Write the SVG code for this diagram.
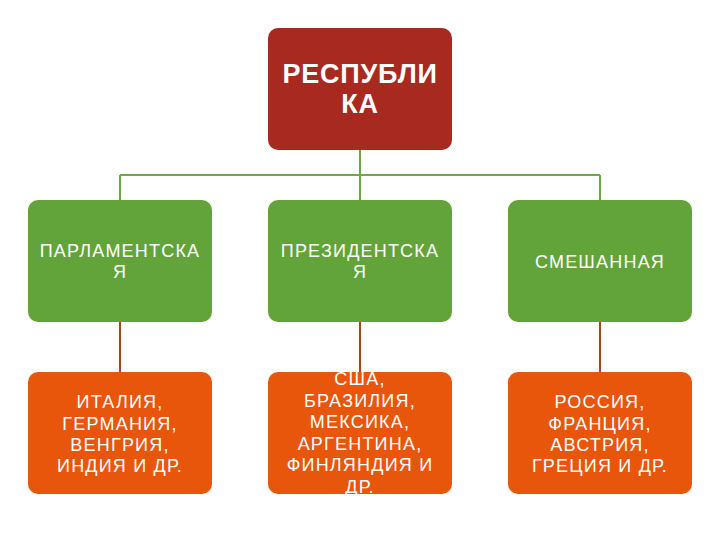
<svg xmlns="http://www.w3.org/2000/svg" width="720" height="540" viewBox="0 0 720 540">
<style>
.top{fill:#A8291F}
.g{fill:#63A43A}
.o{fill:#E8560B}
text{font-family:"Liberation Sans",Arial,sans-serif;fill:#fff;text-anchor:middle}
.t1{font-size:27px;font-weight:bold;letter-spacing:0.8px}
.t2{font-size:18px;letter-spacing:1.2px}
.cg{stroke:#6AA84A;stroke-width:2;fill:none}
.co{stroke:#A8452A;stroke-width:2;fill:none}
</style>
<rect width="720" height="540" fill="#fff"/>
<g id="connectors">
<path class="cg" d="M360 150V175M120 175H600M120 175V200M360 175V200M600 175V200"/>
<path class="co" d="M120 322V372M360 322V372M600 322V372"/>
</g>
<g id="republic">
<rect class="top" x="268" y="28" width="184" height="122" rx="10"/>
<text class="t1" x="360" y="83">РЕСПУБЛИ</text>
<text class="t1" x="360" y="113">КА</text>
</g>
<g id="parl">
<rect class="g" x="28" y="200" width="184" height="122" rx="10"/>
<text class="t2" x="120" y="257">ПАРЛАМЕНТСКА</text>
<text class="t2" x="120" y="278">Я</text>
</g>
<g id="pres">
<rect class="g" x="268" y="200" width="184" height="122" rx="10"/>
<text class="t2" x="360" y="257">ПРЕЗИДЕНТСКА</text>
<text class="t2" x="360" y="278">Я</text>
</g>
<g id="mixed">
<rect class="g" x="508" y="200" width="184" height="122" rx="10"/>
<text class="t2" x="600" y="268">СМЕШАННАЯ</text>
</g>
<g id="ex1">
<rect class="o" x="28" y="372" width="184" height="122" rx="10"/>
<text class="t2" x="120" y="408">ИТАЛИЯ,</text>
<text class="t2" x="120" y="430">ГЕРМАНИЯ,</text>
<text class="t2" x="120" y="451">ВЕНГРИЯ,</text>
<text class="t2" x="120" y="472">ИНДИЯ И ДР.</text>
</g>
<g id="ex2">
<rect class="o" x="268" y="372" width="184" height="122" rx="10"/>
<text class="t2" x="360" y="385">США,</text>
<text class="t2" x="360" y="407">БРАЗИЛИЯ,</text>
<text class="t2" x="360" y="428">МЕКСИКА,</text>
<text class="t2" x="360" y="450">АРГЕНТИНА,</text>
<text class="t2" x="360" y="471">ФИНЛЯНДИЯ И</text>
<text class="t2" x="360" y="493">ДР.</text>
</g>
<g id="ex3">
<rect class="o" x="508" y="372" width="184" height="122" rx="10"/>
<text class="t2" x="600" y="408">РОССИЯ,</text>
<text class="t2" x="600" y="430">ФРАНЦИЯ,</text>
<text class="t2" x="600" y="451">АВСТРИЯ,</text>
<text class="t2" x="600" y="472">ГРЕЦИЯ И ДР.</text>
</g>
</svg>
